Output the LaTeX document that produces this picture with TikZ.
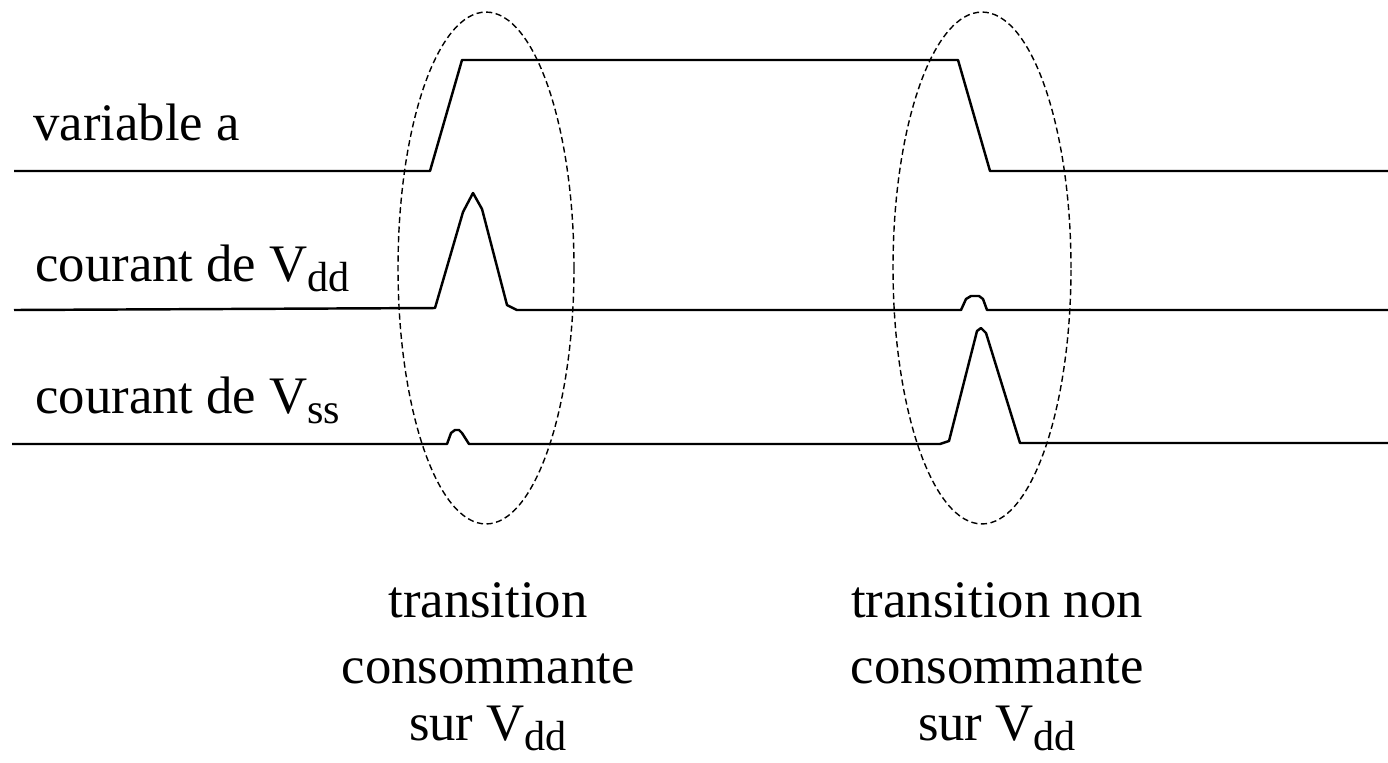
\documentclass[tikz,border=0pt]{standalone}
\usepackage{fontspec}
\setmainfont{Liberation Serif}
\newcommand{\vsub}[1]{V\raisebox{-6pt}{\fontsize{24}{24}\selectfont #1}}
\tikzset{
  lbl/.style={font=\fontsize{30}{36}\selectfont, inner sep=0pt},
  wave/.style={line width=1.4pt, line join=round},
  zone/.style={dash pattern=on 3.5pt off 2pt, line width=0.8pt}
}
\begin{document}
\begin{tikzpicture}[x=0.02cm, y=-0.02cm]
    \useasboundingbox (0,0) rectangle (1388,762);
    % signal names on the left
    \node[lbl, anchor=base west] (nA)   at (33,140) {variable a};
    \node[lbl, anchor=base west] (nVdd) at (35,281) {courant de \vsub{dd}};
    \node[lbl, anchor=base west] (nVss) at (35,413) {courant de \vsub{ss}};
    % input a: rises, then falls
    \draw[wave] (14,171) -- (430,171) -- (462,60) -- (958,60) -- (990,171) -- (1388,171);
    % current from Vdd: large peak on the rising edge, small bump on the falling one
    \draw[wave] (14,310) -- (435,308) -- (463,212) -- (473,193) -- (482,209)
      -- (507,305) -- (517,310) -- (961,310) -- (966,299) -- (971,296)
      -- (979,296) -- (983,299) -- (987,310) -- (1388,310);
    % current from Vss: the other way round
    \draw[wave] (12,444) -- (447,444) -- (451,433) -- (455,430) -- (459,430)
      -- (462,433) -- (469,444) -- (940,444) -- (949,441) -- (977,331)
      -- (981,328) -- (986,333) -- (1020,443) -- (1388,443);
    % the two transitions
    \draw[zone] (486,268) ellipse [x radius=1.76cm, y radius=5.12cm];
    \draw[zone] (982,268) ellipse [x radius=1.78cm, y radius=5.12cm];
    % captions
    \node[lbl, anchor=base] (c1a) at (488,617) {transition};
    \node[lbl, anchor=base] (c1b) at (488,683) {consommante};
    \node[lbl, anchor=base] (c1c) at (488,740) {sur \vsub{dd}};
    \node[lbl, anchor=base] (c2a) at (997,617) {transition non};
    \node[lbl, anchor=base] (c2b) at (997,683) {consommante};
    \node[lbl, anchor=base] (c2c) at (997,740) {sur \vsub{dd}};
\end{tikzpicture}
\end{document}
